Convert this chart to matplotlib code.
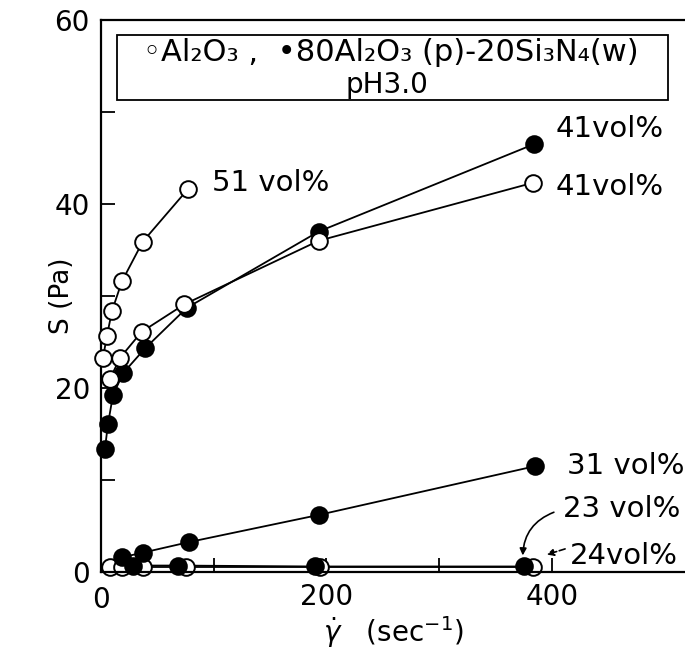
import matplotlib
matplotlib.use("Agg")
import matplotlib.pyplot as plt
from matplotlib.patches import Rectangle

# ---- data ----
x51_open = [1.8, 5.3, 9.8, 18.6, 37, 77]
y51_open = [23.3, 25.7, 28.4, 31.6, 35.9, 41.6]

x41_open = [8, 17, 36, 74, 193, 383]
y41_open = [21.0, 23.3, 26.1, 29.1, 36.0, 42.3]

x41_fill = [3.5, 6.2, 10.6, 19.5, 39, 76, 193, 384]
y41_fill = [13.4, 16.1, 19.2, 21.6, 24.3, 28.7, 37.0, 46.5]

x31_fill = [18.6, 37, 78, 193, 385]
y31_fill = [1.6, 2.1, 3.25, 6.2, 11.5]

x23_fill = [28, 68, 190, 375]
y23_fill = [0.7, 0.7, 0.6, 0.6]

x24_open = [8, 19, 37, 75, 194, 383]
y24_open = [0.5, 0.5, 0.5, 0.5, 0.5, 0.5]

fig = plt.figure(figsize=(6.85, 6.63), dpi=100)
ax = fig.add_axes([101/685, 1-572/663, 584/685, 552/663])

ms = 12
mew = 1.4
lw = 1.3

def series(x, y, filled, z):
    ax.plot(x, y, '-', color="black", lw=lw, zorder=z)
    ax.plot(x, y, 'o', ms=ms, mew=mew, mec="black",
            mfc="black" if filled else "white", zorder=z + 0.5, clip_on=False)

series(x24_open, y24_open, False, 2)
series(x23_fill, y23_fill, True, 2.2)
series(x31_fill, y31_fill, True, 3)
series(x41_fill, y41_fill, True, 4)
series(x41_open, y41_open, False, 5)
series(x51_open, y51_open, False, 6)

ax.set_xlim(0, 518)
ax.set_ylim(0, 60)

ax.spines['right'].set_visible(False)
for s in ['left', 'bottom', 'top']:
    ax.spines[s].set_linewidth(1.6)
ax.set_xticks([100, 200, 300, 400])
ax.set_xticklabels(['', '200', '', '400'])
ax.set_yticks([0, 10, 20, 30, 40, 50, 60])
ax.set_yticklabels(['0', '', '20', '', '40', '', '60'])
ax.tick_params(direction='in', length=10, width=1.3, labelsize=20, pad=8)
ax.tick_params(axis='x', pad=8)
ax.text(0, -0.025, '0', transform=ax.get_xaxis_transform(), ha='center', va='top', fontsize=20)

ax.set_ylabel('S (Pa)', fontsize=19)
ax.yaxis.set_label_coords(-0.045, 0.5)
ax.set_xlabel(r'$\dot{\gamma}$   (sec$^{-1}$)', fontsize=20, labelpad=2)

# legend box
ax.add_patch(Rectangle((0.027, 0.855), 0.944, 0.118, transform=ax.transAxes,
                       fill=False, lw=1.3, ec='black', zorder=10))
ax.text(0.497, 0.942, '◦Al₂O₃ ,  •80Al₂O₃ (p)-20Si₃N₄(w)', transform=ax.transAxes,
        ha='center', va='center', fontsize=22)
ax.text(0.49, 0.882, 'pH3.0', transform=ax.transAxes, ha='center', va='center', fontsize=20)

# annotations
fs = 21
ax.text(98.5, 42.3, '51 vol%', fontsize=fs, ha='left', va='center')
ax.text(403, 48.1, '41vol%', fontsize=fs, ha='left', va='center')
ax.text(403, 41.9, '41vol%', fontsize=fs, ha='left', va='center')
ax.text(413, 11.5, '31 vol%', fontsize=fs, ha='left', va='center')
ax.text(410, 6.8, '23 vol%', fontsize=fs, ha='left', va='center')
ax.text(416, 1.7, '24vol%', fontsize=fs, ha='left', va='center')

ax.annotate('', xy=(374, 1.5), xytext=(404, 6.6),
            arrowprops=dict(arrowstyle='-|>', color='black', lw=1.2,
                            connectionstyle='arc3,rad=0.35', mutation_scale=10))
ax.annotate('', xy=(393, 1.8), xytext=(414, 2.6),
            arrowprops=dict(arrowstyle='-|>', color='black', lw=1.2,
                            linestyle='--', mutation_scale=10))

fig.savefig('out.png', dpi=100)
